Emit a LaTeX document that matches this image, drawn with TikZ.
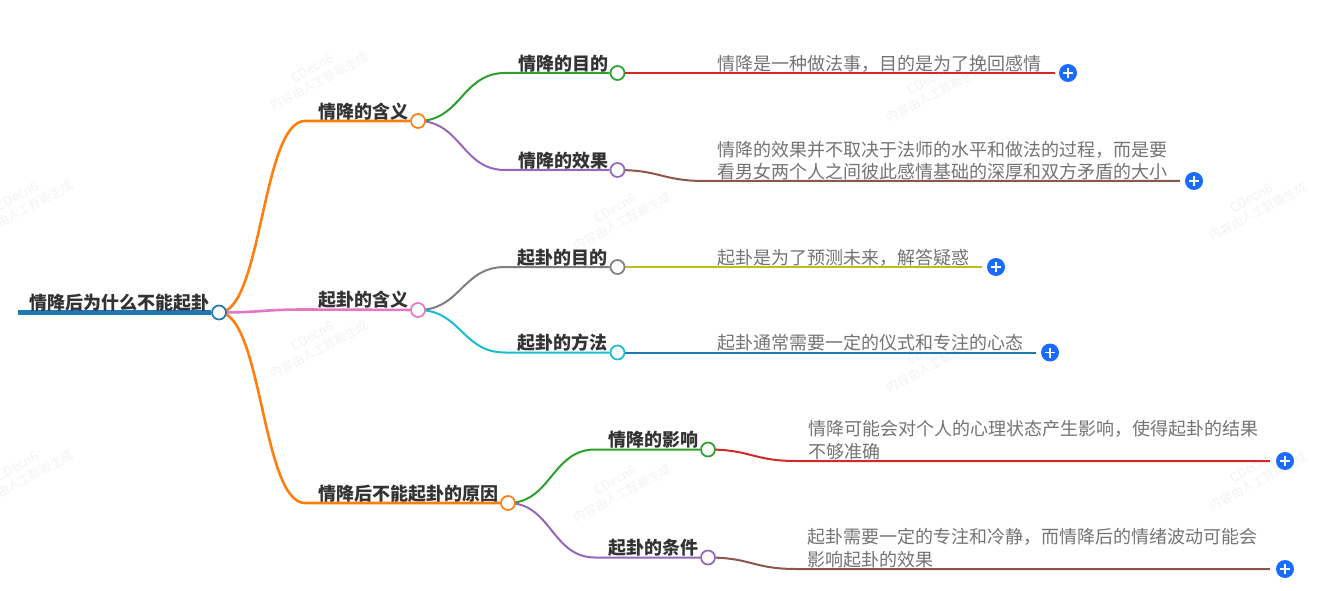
\documentclass[tikz,border=0pt]{standalone}
\usepackage{fontspec}
\usetikzlibrary{backgrounds}
\setmainfont{Noto Sans CJK SC}
\definecolor{cblue}{HTML}{1F77B4}
\definecolor{corange}{HTML}{FF7F0E}
\definecolor{cgreen}{HTML}{2CA02C}
\definecolor{cred}{HTML}{D62728}
\definecolor{cpurple}{HTML}{9467BD}
\definecolor{cbrown}{HTML}{8C564B}
\definecolor{cpink}{HTML}{E377C2}
\definecolor{cgray}{HTML}{7F7F7F}
\definecolor{colive}{HTML}{BCBD22}
\definecolor{ccyan}{HTML}{17BECF}
\definecolor{cbtn}{HTML}{1A6CFF}
\tikzset{
  title/.style={anchor=west,inner sep=0pt,text=black!80,font=\fontsize{18}{23}\selectfont\bfseries},
  leaf/.style={anchor=west,inner sep=0pt,text=black!55,align=left,font=\fontsize{18}{22.5}\selectfont},
  dot/.style={circle,draw=#1,fill=white,line width=1.7pt,minimum size=14pt,inner sep=0pt},
  link/.style={draw=#1,line width=2pt},
  thick link/.style={draw=#1,line width=2.6pt},
  btn/.style={circle,fill=cbtn,minimum size=18pt,inner sep=0pt,
    path picture={\draw[white,line width=1.8pt]
      ([xshift=-5pt]path picture bounding box.center) -- ([xshift=5pt]path picture bounding box.center)
      ([yshift=-5pt]path picture bounding box.center) -- ([yshift=5pt]path picture bounding box.center);}},
  mark text/.style={rotate=28,text=black!5,align=center,inner sep=0pt,font=\fontsize{12}{15}\selectfont},
  flow/.style={to path={.. controls +(43,0) and +(-43,0) .. (\tikztotarget)}},
}
\begin{document}
\begin{tikzpicture}[x=1pt,y=-1pt]
\useasboundingbox (0,0) rectangle (1326,591);
% titles
\node[title] (troot) at (29,303) {情降后为什么不能起卦};
\node[title] (t1) at (318.7,112) {情降的含义};
\node[title] (t2) at (318,300) {起卦的含义};
\node[title] (t3) at (318.7,494) {情降后不能起卦的原因};
\node[title] (t11) at (518,64) {情降的目的};
\node[title] (t12) at (518,161) {情降的效果};
\node[title] (t21) at (517.5,258) {起卦的目的};
\node[title] (t22) at (517.5,343) {起卦的方法};
\node[title] (t31) at (608.5,440) {情降的影响};
\node[title] (t32) at (608,548) {起卦的条件};
% leaf text
\node[leaf] (l11) at (717.5,64) {情降是一种做法事，目的是为了挽回感情};
\node[leaf] (l12) at (717.5,160.5) {情降的效果并不取决于法师的水平和做法的过程，而是要\\看男女两个人之间彼此感情基础的深厚和双方矛盾的大小};
\node[leaf] (l21) at (717,258) {起卦是为了预测未来，解答疑惑};
\node[leaf] (l22) at (717,343) {起卦通常需要一定的仪式和专注的心态};
\node[leaf] (l31) at (808,440) {情降可能会对个人的心理状态产生影响，使得起卦的结果\\不够准确};
\node[leaf] (l32) at (807.5,548) {起卦需要一定的专注和冷静，而情降后的情绪波动可能会\\影响起卦的效果};
% dots
\node[dot=cblue] (r) at (219,312.5) {};
\node[dot=corange] (c1) at (418,121) {};
\node[dot=cpink] (c2) at (418,310) {};
\node[dot=corange] (c3) at (508,503) {};
\node[dot=cgreen] (c11) at (617.5,73) {};
\node[dot=cpurple] (c12) at (617.5,170) {};
\node[dot=cgray] (c21) at (617.5,267) {};
\node[dot=ccyan] (c22) at (617.5,352.5) {};
\node[dot=cgreen] (c31) at (708,449.5) {};
\node[dot=cpurple] (c32) at (708,557.5) {};
% buttons
\node[btn] (p11) at (1068,73) {};
\node[btn] (p12) at (1194,181) {};
\node[btn] (p21) at (996,267) {};
\node[btn] (p22) at (1050,352.5) {};
\node[btn] (p31) at (1285,461) {};
\node[btn] (p32) at (1285,569) {};
% free ends
\coordinate (s) at (18,312.5);
\coordinate (b1) at (305,121);
\coordinate (b2) at (305,309.5);
\coordinate (b3) at (305,503);
\coordinate (b11) at (505,73);
\coordinate (b12) at (505,170);
\coordinate (b21) at (505,267);
\coordinate (b22) at (505,352.5);
\coordinate (b31) at (595,449.5);
\coordinate (b32) at (595,557.5);
\coordinate (d11) at (705,73);
\coordinate (d12) at (705,181);
\coordinate (d21) at (705,267);
\coordinate (d22) at (705,352.5);
\coordinate (d31) at (796,461);
\coordinate (d32) at (796,569);
\begin{scope}[on background layer]
% faint marks
\foreach \n/\x/\y in {a/21/203,b/21/473,c/316/75,d/316/343,e/619/215,f/619/487,g/932/87,h/932/357,i/1255/205,j/1255/475}
  \node[mark text] (w\n) at (\x,\y) {{\fontsize{13}{15}\selectfont CDecn6}\\内容由人工智能生成};
% connectors
\draw[draw=cblue,line width=4.5pt] (s) -- (r);
\draw[thick link=corange] (r.center) to[flow] (b1) -- (c1);
\draw[thick link=cpink] (r.center) to[flow] (b2) -- (c2);
\draw[thick link=corange] (r.center) to[flow] (b3) -- (c3);
\draw[link=cgreen] (c1.center) to[flow] (b11) -- (c11);
\draw[link=cpurple] (c1.center) to[flow] (b12) -- (c12);
\draw[link=cgray] (c2.center) to[flow] (b21) -- (c21);
\draw[link=ccyan] (c2.center) to[flow] (b22) -- (c22);
\draw[link=cgreen] (c3.center) to[flow] (b31) -- (c31);
\draw[link=cpurple] (c3.center) to[flow] (b32) -- (c32);
\draw[link=cred] (c11.center) to[flow] (d11) -- ([xshift=-4pt]p11.west);
\draw[link=cbrown] (c12.center) to[flow] (d12) -- ([xshift=-5pt]p12.west);
\draw[link=colive] (c21.center) to[flow] (d21) -- ([xshift=-5pt]p21.west);
\draw[link=cblue] (c22.center) to[flow] (d22) -- ([xshift=-5pt]p22.west);
\draw[link=cred] (c31.center) to[flow] (d31) -- ([xshift=-6pt]p31.west);
\draw[link=cbrown] (c32.center) to[flow] (d32) -- ([xshift=-6pt]p32.west);
\end{scope}
\end{tikzpicture}
\end{document}
